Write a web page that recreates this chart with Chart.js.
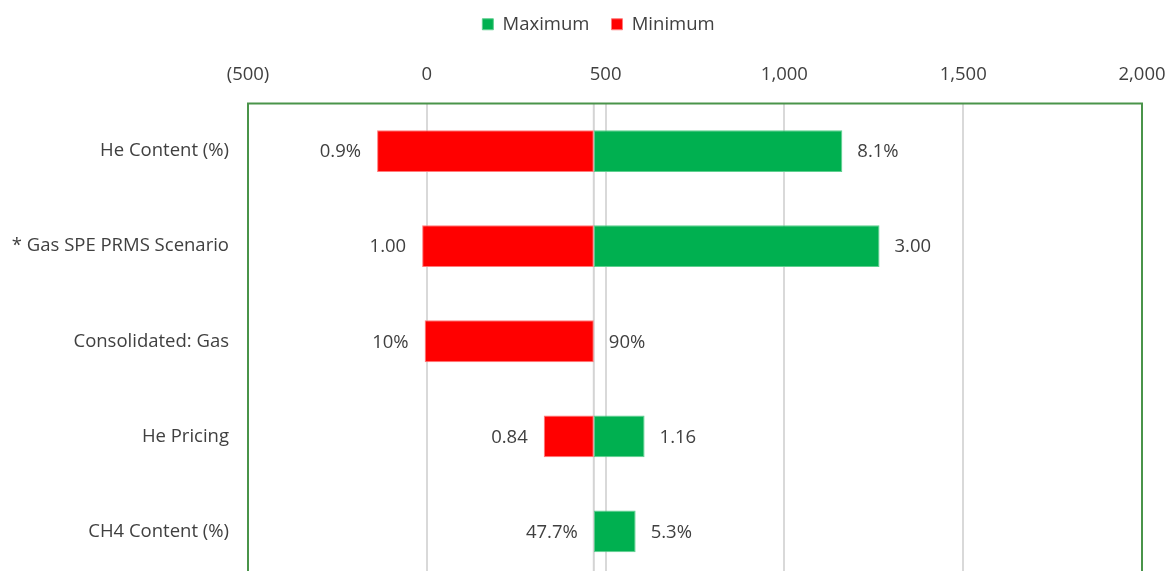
<!DOCTYPE html>
<html>
<head>
<meta charset="utf-8">
<script src="https://cdn.jsdelivr.net/npm/chart.js@4.4.1/dist/chart.umd.min.js"></script>
<style>
  html, body { margin: 0; padding: 0; background: #ffffff; width: 1168px; height: 571px; overflow: hidden; }
  canvas { display: block; }
</style>
</head>
<body>
<canvas id="tornado" width="1168" height="600"></canvas>
<script>
// Sensitivity inputs (top to bottom)
const categories = ['He Content (%)', '* Gas SPE PRMS Scenario', 'Consolidated: Gas', 'He Pricing', 'CH4 Content (%)'];
// Base case value that every bar starts from
const baseValue = 467;
// Result at the low and high setting of each input
const minimumValues = [-139, -13, -6, 327, 467];
const maximumValues = [1162, 1266, 467, 609, 584];
// Input settings shown beside the bars
const minimumLabels = ['0.9%', '1.00', '10%', '0.84', '47.7%'];
const maximumLabels = ['8.1%', '3.00', '90%', '1.16', '5.3%'];
// Value axis range and step
const axisMin = -500;
const axisMax = 2000;
const axisStep = 500;

const FONT = '"Open Sans", Lato, sans-serif';
const FONT_SIZE = 18.5;
const TEXT = '#404040';
const GREEN = '#00b050';
const RED = '#ff0000';

const fmt = v => v < 0 ? '(' + Math.abs(v).toLocaleString('en-US') + ')' : v.toLocaleString('en-US');

// Plot frame and base-case line
const framePlugin = {
  id: 'frame',
  beforeDatasetsDraw(chart) {
    const { ctx, chartArea: a, scales } = chart;
    ctx.save();
    const bx = scales.x.getPixelForValue(baseValue);
    ctx.strokeStyle = '#d4d4d4';
    ctx.lineWidth = 2;
    ctx.beginPath();
    ctx.moveTo(bx, a.top);
    ctx.lineTo(bx, a.bottom);
    ctx.stroke();
    ctx.strokeStyle = '#4a944a';
    ctx.lineWidth = 2;
    ctx.strokeRect(a.left, a.top, a.right - a.left, a.bottom - a.top);
    ctx.restore();
  }
};

// Keep the legend row centred a little right of the canvas middle
const legendOffsetPlugin = {
  id: 'legendOffset',
  afterLayout(chart) {
    if (chart.legend) chart.legend.left = 55;
  }
};

// Input settings written next to each bar end
const valueLabelPlugin = {
  id: 'valueLabels',
  afterDatasetsDraw(chart) {
    const { ctx } = chart;
    ctx.save();
    ctx.font = FONT_SIZE + 'px ' + FONT;
    ctx.fillStyle = TEXT;
    ctx.textBaseline = 'middle';
    chart.data.datasets.forEach((ds, di) => {
      const meta = chart.getDatasetMeta(di);
      meta.data.forEach((bar, i) => {
        const left = Math.min(bar.x, bar.base);
        const right = Math.max(bar.x, bar.base);
        if (ds.side === 'min') {
          ctx.textAlign = 'right';
          ctx.fillText(ds.valueLabels[i], left - 16, bar.y + 1);
        } else {
          ctx.textAlign = 'left';
          ctx.fillText(ds.valueLabels[i], right + 15, bar.y + 1);
        }
      });
    });
    ctx.restore();
  }
};

new Chart(document.getElementById('tornado'), {
  type: 'bar',
  data: {
    labels: categories,
    datasets: [
      {
        label: 'Maximum',
        side: 'max',
        valueLabels: maximumLabels,
        data: maximumValues.map(v => [baseValue, v]),
        backgroundColor: GREEN,
        borderColor: '#5fcf8f',
        borderWidth: 1,
        borderSkipped: false,
        grouped: false,
        barPercentage: 0.44,
        categoryPercentage: 1
      },
      {
        label: 'Minimum',
        side: 'min',
        valueLabels: minimumLabels,
        data: minimumValues.map(v => [v, baseValue]),
        backgroundColor: RED,
        borderColor: '#ff7a7a',
        borderWidth: 1,
        borderSkipped: false,
        grouped: false,
        barPercentage: 0.44,
        categoryPercentage: 1
      }
    ]
  },
  options: {
    indexAxis: 'y',
    responsive: false,
    animation: false,
    layout: { padding: { left: 0, right: 26, top: -7, bottom: 21 } },
    scales: {
      x: {
        position: 'top',
        min: axisMin,
        max: axisMax,
        ticks: {
          stepSize: axisStep,
          color: TEXT,
          font: { family: FONT, size: FONT_SIZE },
          padding: 18,
          maxRotation: 0,
          callback: v => fmt(v)
        },
        grid: {
          color: ctx => (ctx.tick && (ctx.tick.value === axisMin || ctx.tick.value === axisMax)) ? 'rgba(0,0,0,0)' : '#d9d9d9',
          lineWidth: 2,
          drawTicks: false
        },
        border: { display: false },
        afterFit(scale) {
          scale.paddingLeft = 0;
          scale.paddingRight = 0;
          scale.height = 60;
        }
      },
      y: {
        ticks: {
          color: TEXT,
          font: { family: FONT, size: FONT_SIZE },
          padding: 11
        },
        grid: { display: false },
        border: { display: false },
        afterFit(scale) {
          scale.width = 248;
          scale.paddingTop = 0;
          scale.paddingBottom = 0;
        }
      }
    },
    plugins: {
      legend: {
        position: 'top',
        labels: {
          color: TEXT,
          font: { family: FONT, size: FONT_SIZE },
          boxWidth: 11,
          boxHeight: 11,
          padding: 22
        }
      },
      tooltip: { enabled: false }
    }
  },
  plugins: [framePlugin, legendOffsetPlugin, valueLabelPlugin]
});
</script>
</body>
</html>
